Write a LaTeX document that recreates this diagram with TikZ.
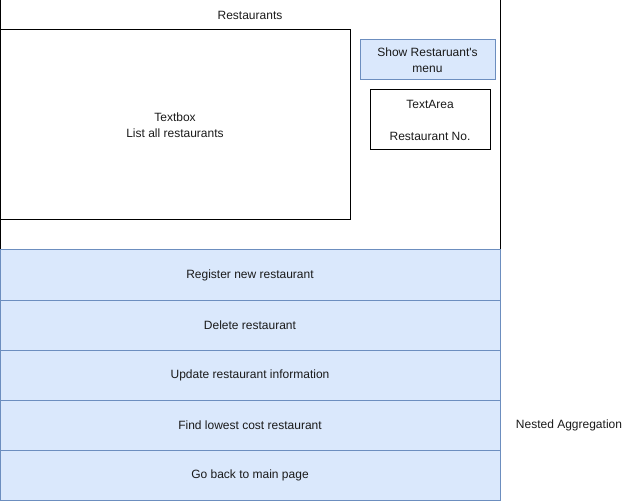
\documentclass[tikz,border=0pt]{standalone}
\usepackage{fontspec}
\setmainfont{Liberation Sans}
\usetikzlibrary{positioning}
\definecolor{btnfill}{HTML}{DAE8FC}
\definecolor{btnline}{HTML}{6C8EBF}
\definecolor{txt}{HTML}{1A1A1A}

\begin{document}
\begin{tikzpicture}[x=0.75pt, y=-0.75pt, node distance=37.5pt,
    font=\fontsize{9pt}{12pt}\selectfont, text=txt,
    frame/.style={draw=black, line width=0.75pt, inner sep=0pt},
    btn/.style={draw=btnline, fill=btnfill, line width=0.75pt, inner sep=0pt, align=center},
    rowbox/.style={btn, minimum width=375pt, minimum height=37.5pt}]
  \useasboundingbox (0,0) rectangle (635,502);

  % Window
  \node[frame, minimum width=375pt, minimum height=187.5pt] (win) at (250,125) {};
  \node (title) at (250,15) {Restaurants};
  \node[frame, minimum width=262.5pt, minimum height=142.5pt, align=center] (textbox) at (175,125) {Textbox\\List all restaurants};

  % Right column
  \node[btn, minimum width=101.25pt, minimum height=30pt] (showMenu) at (427.5,60) {Show Restaruant\textquotesingle s\\menu};
  \node[frame, minimum width=90pt, minimum height=45pt, align=center] (textArea) at (430,120) {TextArea\\[12pt]Restaurant No.};

  % Buttons
  \node[rowbox] (regRest) at (250,275) {Register new restaurant};
  \node[rowbox, below of=regRest] (delRest) {Delete restaurant};
  \node[rowbox, below of=delRest] (updRest) {Update restaurant information};
  \node[rowbox, below of=updRest] (findRest) {Find lowest cost restaurant};
  \node[rowbox, below of=findRest] (backMain) {Go back to main page};

  \node (nested) at (569,425) {Nested Aggregation};
\end{tikzpicture}
\end{document}
